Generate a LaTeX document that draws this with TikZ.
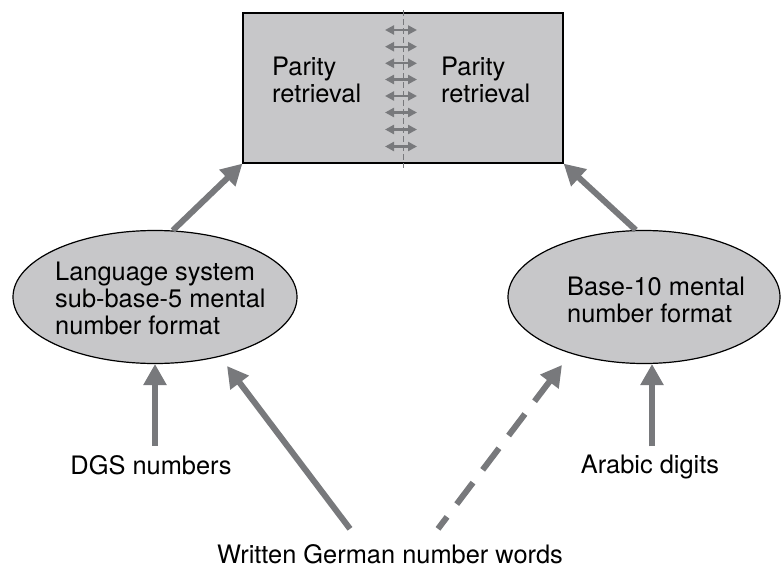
\documentclass[tikz,border=0pt]{standalone}
\usepackage{fontspec}
\setmainfont{TeX Gyre Heros}
\usetikzlibrary{arrows.meta,shapes.geometric,calc}
\definecolor{panelgray}{HTML}{C7C7C9}
\definecolor{arrgray}{HTML}{78797C}
\tikzset{
  panel/.style={draw=black, line width=1.2pt, fill=panelgray, inner sep=0pt},
  ellbox/.style={panel, ellipse},
  txt/.style={inner sep=0pt, align=left, font=\fontsize{25.4pt}{27pt}\selectfont},
  bigarr/.style={draw=arrgray, line width=6pt, -{Triangle[width=22pt,length=21pt]}},
  dasharr/.style={bigarr, dash pattern=on 27pt off 16pt, dash phase=12pt},
  smallarr/.style={draw=arrgray, line width=2.2pt, {Triangle[width=9pt,length=9pt]}-{Triangle[width=9pt,length=9pt]}},
  divider/.style={draw=arrgray, line width=1pt, dash pattern=on 6pt off 3pt}
}
\begin{document}
\begin{tikzpicture}[x=1pt,y=-1pt]
\useasboundingbox (0,0) rectangle (781,567);
% top panel
\node[panel, rectangle, minimum width=320pt, minimum height=150pt] (box) at (403,88) {};
\draw[divider] ([yshift=2pt]box.north) -- ([yshift=-4pt]box.south);
\foreach \k [count=\i] in {30,46.7,63.3,79.5,96,112.5,129.5,146.5}{
  \coordinate (al\i) at (385,\k);
  \coordinate (ar\i) at (417,\k);
  \draw[smallarr] (al\i) -- (ar\i);
}
\node[txt, anchor=north west] (pl) at (272,57) {Parity\\retrieval};
\node[txt, anchor=north west] (pr) at (441,57) {Parity\\retrieval};
% ellipses
\node[ellbox, minimum width=284pt, minimum height=133pt] (lell) at (155,297) {};
\node[txt, anchor=north west] (ltxt) at (55,262) {Language system\\sub-base-5 mental\\number format};
\node[ellbox, minimum width=272pt, minimum height=133pt] (rell) at (644,297) {};
\node[txt, anchor=north west] (rtxt) at (567,277) {Base-10 mental\\number format};
% bottom labels
\node[txt, anchor=base] (dgs) at (151,474) {DGS numbers};
\node[txt, anchor=base] (ara) at (650,473) {Arabic digits};
\node[txt, anchor=base] (wg) at (390,563) {Written German number words};
% arrows to panel
\draw[bigarr] (lell.75.6) -- (box.south west);
\draw[bigarr] (rell.97.7) -- (box.south east);
% arrows to ellipses
\coordinate (dgstip) at (155,364);
\coordinate (aratip) at (652,364);
\coordinate (wgltip) at (227,366);
\coordinate (wgrtip) at (562,365);
\draw[bigarr] ($(dgs.north)+(4,-9)$) -- (dgstip);
\draw[bigarr] ($(ara.north)+(2,-8)$) -- (aratip);
\draw[bigarr] ($(wg.north)+(-40,-15)$) -- (wgltip);
\draw[dasharr] ($(wg.north)+(48,-15)$) -- (wgrtip);
\end{tikzpicture}
\end{document}
